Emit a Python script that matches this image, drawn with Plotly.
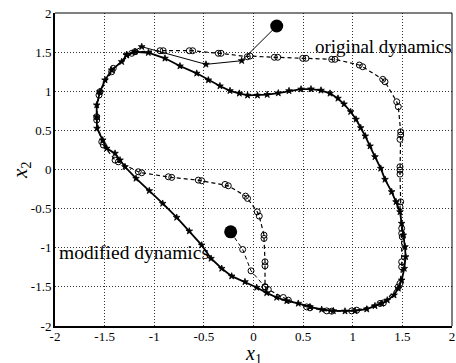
import plotly.graph_objects as go

# ---- tick labels ----
tick_vals = [-2, -1.5, -1, -0.5, 0, 0.5, 1, 1.5, 2]
tick_text = ["-2", "-1.5", "-1", "-0.5", "0", "0.5", "1", "1.5", "2"]

# ---- original dynamics: limit cycle (dashed, open circles) ----
orig_cycle_x = [0.116, 0.149, 0.300, 0.351, 0.536, 0.569, 0.738, 0.788, 0.989, 1.040,
                1.275, 1.308, 1.459, 1.476, 1.493, 1.493, 1.499, 1.493, 1.493,
                1.476, 1.483, 1.476, 1.476, 1.476, 1.476, 1.483, 1.483,
                1.459, 1.443, 1.325, 1.302, 1.100, 1.066, 0.821, 0.788, 0.529, 0.496,
                0.244, 0.210, -0.035, -0.062, -0.327, -0.355, -0.613, -0.647,
                -0.909, -0.942, -1.194, -1.227, -1.413, -1.429, -1.547, -1.557,
                -1.580, -1.580, -1.529, -1.513, -1.395, -1.362, -1.161, -1.126,
                -0.858, -0.824, -0.556, -0.522, -0.287, -0.254, -0.080, -0.060,
                0.038, 0.058, 0.106, 0.106, 0.116, 0.116, 0.116]
orig_cycle_y = [-1.500, -1.533, -1.636, -1.670, -1.756, -1.768, -1.807, -1.811, -1.807, -1.798,
                -1.712, -1.705, -1.500, -1.456, -1.244, -1.180, -0.861, -0.817, -0.753,
                -0.477, -0.413, -0.059, -0.008, 0.035, 0.385, 0.440, 0.482,
                0.802, 0.866, 1.121, 1.152, 1.313, 1.335, 1.408, 1.408, 1.421, 1.421,
                1.434, 1.434, 1.450, 1.441, 1.485, 1.485, 1.518, 1.518,
                1.518, 1.518, 1.505, 1.485, 1.293, 1.249, 0.994, 0.951,
                0.674, 0.632, 0.354, 0.312, 0.120, 0.098, -0.029, -0.042,
                -0.093, -0.101, -0.136, -0.144, -0.191, -0.208, -0.340, -0.370,
                -0.541, -0.596, -0.839, -0.881, -1.180, -1.231, -1.500]

# ---- original dynamics: transient from initial point ----
orig_traj_x = [-0.230, -0.109, -0.025, 0.116]
orig_traj_y = [-0.797, -1.022, -1.295, -1.500]

# ---- modified dynamics: limit cycle (solid, star markers) ----
mod_cycle_x = [-1.278, -1.328, -1.429, -1.496, -1.547, -1.580, -1.580, -1.577, -1.519, -1.479,
               -1.395, -1.345, -1.295, -1.184, -1.050, -0.915, -0.774, -0.647, -0.522, -0.428,
               -0.320, -0.220, -0.086, 0.032, 0.133, 0.234, 0.335, 0.451, 0.569, 0.687,
               0.804, 0.922, 1.023, 1.141, 1.224, 1.292, 1.348, 1.416, 1.459, 1.493,
               1.519, 1.533, 1.526, 1.509, 1.493, 1.476, 1.436, 1.392, 1.325, 1.282,
               1.224, 1.174, 1.126, 1.080, 1.033, 0.979, 0.912, 0.851, 0.771, 0.680,
               0.579, 0.479, 0.358, 0.250, 0.138, 0.040, -0.060, -0.143, -0.237, -0.338,
               -0.455, -0.572, -0.741, -0.892, -1.060, -1.194, -1.278]
mod_cycle_y = [1.463, 1.377, 1.271, 1.143, 0.994, 0.824, 0.674, 0.526, 0.376, 0.270,
               0.206, 0.120, 0.035, -0.114, -0.272, -0.434, -0.613, -0.788, -0.967, -1.137,
               -1.265, -1.363, -1.436, -1.508, -1.577, -1.636, -1.679, -1.712, -1.756, -1.789,
               -1.807, -1.811, -1.807, -1.785, -1.743, -1.712, -1.670, -1.606, -1.520, -1.414,
               -1.265, -1.116, -0.988, -0.839, -0.689, -0.541, -0.413, -0.285, -0.127, 0.014,
               0.162, 0.299, 0.427, 0.533, 0.641, 0.738, 0.836, 0.909, 0.973, 1.012,
               1.028, 1.026, 1.005, 0.977, 0.957, 0.948, 0.948, 0.973, 1.006, 1.067,
               1.143, 1.229, 1.322, 1.421, 1.492, 1.505, 1.463]

# ---- modified dynamics: transient from initial point ----
mod_traj_x = [0.234, -0.119, -0.479, -1.126, -1.278]
mod_traj_y = [1.834, 1.390, 1.344, 1.569, 1.463]

# ---- initial points ----
init_x = [0.234, -0.230]
init_y = [1.834, -0.797]

# ---- labels ----
label_orig = "original dynamics"
label_mod = "modified dynamics"

SERIF = "Liberation Serif, Times New Roman, serif"

fig = go.Figure()
fig.add_trace(go.Scatter(
    x=orig_cycle_x, y=orig_cycle_y, mode="lines+markers",
    line=dict(color="black", width=1.2, dash="4px,3px"),
    marker=dict(symbol="circle-open", size=6, color="black", line=dict(width=1, color="black")),
    showlegend=False))
fig.add_trace(go.Scatter(
    x=orig_traj_x, y=orig_traj_y, mode="lines+markers",
    line=dict(color="black", width=1, dash="4px,3px"),
    marker=dict(symbol="circle-open", size=6, color="black", line=dict(width=1, color="black")),
    showlegend=False))
fig.add_trace(go.Scatter(
    x=mod_cycle_x, y=mod_cycle_y, mode="lines+markers",
    line=dict(color="black", width=1.8),
    marker=dict(symbol="star", size=5, color="black", line=dict(width=0.8, color="black")),
    showlegend=False))
fig.add_trace(go.Scatter(
    x=mod_traj_x, y=mod_traj_y, mode="lines+markers",
    line=dict(color="black", width=1),
    marker=dict(symbol="star", size=5, color="black", line=dict(width=0.8, color="black")),
    showlegend=False))
fig.add_trace(go.Scatter(
    x=init_x, y=init_y, mode="markers",
    marker=dict(symbol="circle", size=13, color="black"),
    showlegend=False))

axis_common = dict(
    range=[-2, 2], tickvals=tick_vals, ticktext=tick_text, automargin=False,
    showgrid=True, gridcolor="#333333", griddash="1px,2px", gridwidth=1,
    zeroline=False, showline=True, linecolor="black", linewidth=2,
    ticks="", tickfont=dict(family=SERIF, size=13, color="black"),
)
fig.update_xaxes(**axis_common, ticklabelstandoff=-3)
fig.update_yaxes(**axis_common, ticklabelstandoff=-1)

fig.add_shape(type="line", xref="paper", yref="paper", x0=0, x1=1, y0=1, y1=1,
              line=dict(color="black", width=1))
fig.add_shape(type="line", xref="paper", yref="paper", x0=1, x1=1, y0=0, y1=1,
              line=dict(color="black", width=1))

fig.add_annotation(x=0.600, y=1.572, xref="x", yref="y", text=label_orig, showarrow=False,
                   xanchor="left", yanchor="middle",
                   font=dict(family=SERIF, size=19, color="black"))
fig.add_annotation(x=-1.98, y=-1.063, xref="x", yref="y", text=label_mod, showarrow=False,
                   xanchor="left", yanchor="middle",
                   font=dict(family=SERIF, size=19.5, color="black"))

fig.add_annotation(x=0.5, y=-0.091, xref="paper", yref="paper",
                   text="<i>x</i><sub>1</sub>", showarrow=False,
                   xanchor="center", yanchor="middle",
                   font=dict(family=SERIF, size=20, color="black"))
fig.add_annotation(x=-0.087, y=0.5, xref="paper", yref="paper",
                   text="<i>x</i><sub>2</sub>", showarrow=False, textangle=-90,
                   xanchor="center", yanchor="middle",
                   font=dict(family=SERIF, size=21, color="black"))

fig.update_layout(
    width=456, height=363,
    margin=dict(l=55, r=4, t=13, b=37),
    plot_bgcolor="white", paper_bgcolor="white",
)

fig.write_html(
    "out.html",
    config={"displayModeBar": False},
    post_script="document.body.style.margin='0';document.body.style.overflow='hidden';",
)
